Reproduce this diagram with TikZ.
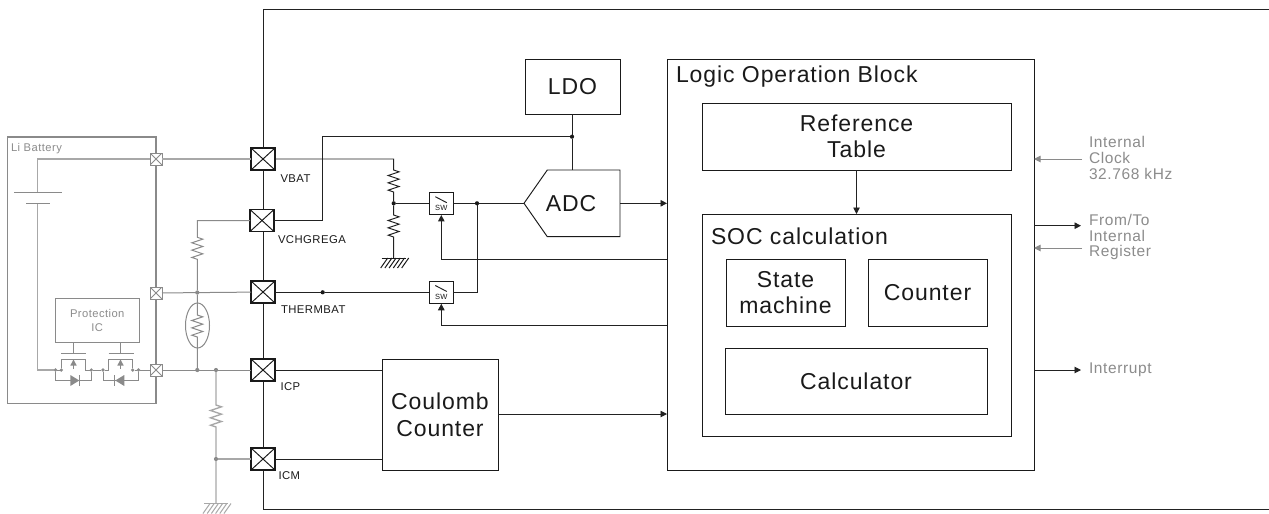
\documentclass[tikz,border=0pt]{standalone}
\usepackage{fontspec}
\setmainfont[LetterSpace=4]{Liberation Sans}
\usetikzlibrary{arrows.meta,calc,shapes.geometric}
\definecolor{ink}{HTML}{1A1A1A}
\definecolor{wirek}{HTML}{222222}
\definecolor{gl}{HTML}{A8A8A8}
\definecolor{gm}{HTML}{8A8A8A}
\definecolor{gt}{HTML}{8C8C8C}
\newcommand\fsz[1]{\fontsize{#1}{#1}\selectfont}
\tikzset{
  x=1pt,y=-1pt,
  every node/.style={inner sep=0pt,outer sep=0pt},
  wire/.style={draw=wirek,line width=0.95pt},
  gwire/.style={draw=gm,line width=1pt},
  lwire/.style={draw=gl,line width=1.3pt},
  tipped/.style={-{Triangle[length=6.5pt,width=6.5pt]}},
  blockbox/.style={draw=ink,line width=0.95pt,fill=white,anchor=north west,align=center,text=ink,font=\fsz{23}},
  bigtext/.style={text=ink,align=center,font=\fsz{23}},
  padbox/.style={draw=ink,line width=1.05pt,fill=white,minimum width=24pt,minimum height=22pt,
    path picture={\draw[ink,line width=0.95pt] (path picture bounding box.north west)--(path picture bounding box.south east)
      (path picture bounding box.north east)--(path picture bounding box.south west);}},
  smallpad/.style={draw=gm,line width=0.95pt,fill=white,minimum width=12pt,minimum height=12pt,
    path picture={\draw[gm,line width=0.9pt] (path picture bounding box.north west)--(path picture bounding box.south east)
      (path picture bounding box.north east)--(path picture bounding box.south west);}},
  swbox/.style={draw=ink,line width=0.95pt,fill=white,minimum width=24pt,minimum height=22.5pt},
  dotk/.style={circle,fill=ink,minimum size=4.2pt},
  dotg/.style={circle,fill=gm,minimum size=4.2pt},
  pinlabel/.style={anchor=west,text=ink,font=\fsz{11.3}},
  graytext/.style={anchor=west,text=gt,align=left,font=\fontsize{15.5}{15.8}\selectfont},
  small gray/.style={text=gt,align=center,font=\fontsize{11.2}{14}\selectfont},
}
\def\zz{-- ++(5.5,1.83) -- ++(-11,3.67) -- ++(11,3.67) -- ++(-11,3.67) -- ++(11,3.67) -- ++(-11,3.67) -- ++(5.5,1.83)}
\newcommand\hatch[2]{% colour, origin
  \foreach \i in {-9,-4.8,-0.6,3.6,7.8,12}{\draw[#1,line width=1pt] ($(#2)+(\i,0)$) ++(3,0) -- ++(-7,10);}
  \draw[#1,line width=1pt] ($(#2)+(-12,0)$) -- ++(24,0);}
\begin{document}
\begin{tikzpicture}
\useasboundingbox (0,0) rectangle (1269,514);
\fill[white] (0,0) rectangle (1269,514);
% outer chip outline
\coordinate (chipTR) at (1269,9);
\coordinate (chipTL) at (263,9);
\coordinate (chipBL) at (263,509);
\coordinate (chipBR) at (1269,509);
\draw[wire] (chipTR) -- (chipTL) -- (chipBL) -- (chipBR);
% battery box
\node[draw=gm,line width=1.1pt,minimum width=148.5pt,minimum height=266.5pt,anchor=north west] (batt) at (7.5,137) {};
\node[small gray,anchor=west,font=\fsz{11.2}] (libatt) at (11,148.5) {Li Battery};
% pads
\node[padbox] (vbat) at (263,159) {};
\node[padbox] (vchg) at (262,220.5) {};
\node[padbox] (therm) at (263,292) {};
\node[padbox] (icp) at (263,370) {};
\node[padbox] (icm) at (263,459) {};
\node[smallpad] (sp1) at (156,159) {};
\node[smallpad] (sp2) at (156,293) {};
\node[smallpad] (sp3) at (156,370) {};
\node[pinlabel] (lvbat) at (280.5,179) {VBAT};
\node[pinlabel] (lvchg) at (278,240) {VCHGREGA};
\node[pinlabel] (ltherm) at (281,309.5) {THERMBAT};
\node[pinlabel] (licp) at (280.5,387) {ICP};
\node[pinlabel] (licm) at (278.5,476) {ICM};
% battery internals
\coordinate (bc1) at (37.5,159);
\coordinate (bp1) at (37.5,192);
\coordinate (bp2) at (37.5,203);
\coordinate (bc2) at (37.5,370);
\node[dotg,minimum size=3.6pt] (d1) at (55.5,370) {};
\node[dotg,minimum size=3.6pt] (d2) at (61.3,370) {};
\node[dotg,minimum size=3.6pt] (d3) at (91.3,370) {};
\node[dotg,minimum size=3.6pt] (d4) at (103,370) {};
\node[dotg,minimum size=3.6pt] (d5) at (132.7,370) {};
\node[dotg,minimum size=3.6pt] (d6) at (138.5,370) {};
\draw[lwire] (sp1) -- (bc1) -- (bp1);
\draw[lwire] (bp2) -- (bc2) -- (d1);
\draw[gm,line width=1pt] (14,192) -- (62,192) (26,203) -- (50,203);
\draw[gwire] (d1) -- (d2) (d3) -- (d4) (d5) -- (d6) -- (sp3);
\node[draw=gm,line width=1pt,minimum width=83.5pt,minimum height=44pt,anchor=north west,small gray] (prot) at (55.5,298) {Protection\\IC};
% mosfets
\coordinate (g1) at (73.5,353.3);
\coordinate (g2) at (120.5,353.3);
\draw[gwire] (g1 |- prot.south) -- (g1);
\draw[gwire] (g2 |- prot.south) -- (g2);
\draw[gwire] (61,353.3) -- (86,353.3);
\draw[gwire] (108.5,353.3) -- (133.5,353.3);
\draw[gwire] (d2) -- (61.3,359.3) -- (85.7,359.3) -- (85.7,370) -- (d3);
\draw[gwire] (108.7,370) -- (108.7,359.3) -- (132.7,359.3) -- (d5);
\draw[gwire] (d4) -- (108.7,370);
\fill[gm] (73.5,359.5) -- (70.3,365.5) -- (76.7,365.5) -- cycle;
\draw[gwire] (73.5,365) -- (73.5,369);
\fill[gm] (120.5,359.5) -- (117.3,365.5) -- (123.7,365.5) -- cycle;
\draw[gwire] (120.5,365) -- (120.5,369);
% body diodes
\draw[gwire] (d1) -- (55.5,380) -- (91.3,380) -- (d3);
\draw[gwire] (d4) -- (103,380) -- (138.5,380) -- (d6);
\fill[gm] (70.3,375) -- (70.3,386) -- (79.3,380.5) -- cycle;
\draw[gm,line width=1pt] (79.7,375) -- (79.7,386);
\fill[gm] (124.3,375) -- (124.3,386) -- (115.3,380.5) -- cycle;
\draw[gm,line width=1pt] (114.7,375) -- (114.7,386);
% left external wiring
\node[dotg] (j1) at (197.3,292.5) {};
\node[dotg] (j2) at (197.3,370) {};
\node[dotg] (j3) at (216,370) {};
\node[dotg] (j4) at (216,459) {};
\coordinate (lgnd) at (216,503.5);
\draw[lwire] (sp1) -- (vbat);
\draw[gwire] (vchg) -- (197.3,220.5) -- (197.3,237.3) \zz -- (j1);
\draw[gwire] (sp2) -- (therm);
\draw[gwire] (sp3) -- (icp);
\draw[gwire] (j1) -- (197.3,315) \zz -- (j2);
\node[draw=gm,line width=1pt,ellipse,minimum width=24pt,minimum height=45pt] (thermistor) at (197.5,325.5) {};
\draw[lwire] (j3) -- (216,405) \zz -- (j4) -- (lgnd);
\draw[lwire] (j4) -- (icm);
\hatch{gl}{lgnd}
% VBAT divider
\node[dotk] (dv) at (393.7,203.3) {};
\coordinate (rgnd) at (393.7,258);
\draw[wire] (vbat) -- (393.7,159) -- (393.7,170) \zz -- (dv);
\draw[wire] (dv) -- (393.7,215) \zz -- (rgnd);
\hatch{ink}{rgnd}
% switches
\node[swbox] (sw1) at (441.3,203.7) {};
\node[swbox] (sw2) at (441.3,292.5) {};
\node[small gray,text=ink,font=\fsz{7.5}] (sw1t) at (441.3,208.3) {SW};
\node[small gray,text=ink,font=\fsz{7.5}] (sw2t) at (441.3,297.3) {SW};
\draw[wire] (sw1.center)++(-6,-7) -- ++(11.5,6);
\draw[wire] (sw2.center)++(-6,-7) -- ++(11.5,6);
% blocks
\node[blockbox,minimum width=95pt,minimum height=55pt] (ldo) at (525,59) {LDO};
\node[draw=ink,line width=0.95pt,minimum width=367pt,minimum height=411pt,anchor=north west] (logic) at (667,59) {};
\node[bigtext,anchor=west] (logict) at (676,77) {Logic Operation Block};
\node[blockbox,minimum width=309pt,minimum height=67pt,font=\fontsize{23}{26}\selectfont] (ref) at (702,103) {Reference\\Table};
\node[draw=ink,line width=0.95pt,minimum width=309pt,minimum height=222pt,anchor=north west] (soc) at (702,214) {};
\node[bigtext,anchor=west] (soct) at (711,236.5) {SOC calculation};
\node[blockbox,minimum width=119pt,minimum height=67pt,font=\fontsize{23}{26}\selectfont] (state) at (726,259) {State\\machine};
\node[blockbox,minimum width=119pt,minimum height=67pt] (counter) at (868,259) {Counter};
\node[blockbox,minimum width=262pt,minimum height=66pt] (calc) at (725,348) {Calculator};
\node[blockbox,minimum width=116pt,minimum height=111pt,font=\fontsize{23}{27}\selectfont] (coulomb) at (382,359) {Coulomb\\Counter};
% ADC
\draw[ink,line width=0.95pt,fill=white] (524,203.3) -- (547.3,170) -- (620,170) -- (620,236.7) -- (547.3,236.7) -- cycle;
\node[bigtext] (adc) at (571,203.3) {ADC};
\coordinate (adcin) at (524,203.3);
\coordinate (adctop) at (572,170);
\coordinate (adcout) at (620,203.3);
% right-hand wiring
\node[dotk] (d7) at (477,203.3) {};
\node[dotk] (d8) at (322.7,292.3) {};
\node[dotk] (d9) at (572,136.7) {};
\draw[wire] (dv) -- (dv -| sw1.west);
\draw[wire] (dv -| sw1.east) -- (d7) -- (adcin);
\draw[wire] (d7) -- (477,292.3) -- (sw2.east |- 0,292.3);
\draw[wire] (therm.east |- 0,292.3) -- (d8) -- (sw2.west |- 0,292.3);
\draw[wire] (vchg) -- (322.3,220.5) -- (322.3,136.7) -- (d9);
\draw[wire] (ldo.south -| d9) -- (d9) -- (adctop);
\draw[wire,tipped] (adcout) -- (adcout -| logic.west);
\draw[wire,tipped] (856.5,170) -- (856.5,214);
\draw[wire,tipped] (logic.west |- 0,259) -- (441.3,259) -- (sw1.south);
\draw[wire,tipped] (logic.west |- 0,325.7) -- (441.3,325.7) -- (sw2.south);
\draw[wire] (icp) -- (coulomb.west |- icp);
\draw[wire] (icm) -- (coulomb.west |- icm);
\draw[wire,tipped] (coulomb.east |- 0,414) -- (logic.west |- 0,414);
% right side signals
\node[graytext] (clk) at (1089,158) {Internal\\Clock\\32.768 kHz};
\node[graytext] (ftr) at (1089,237) {From/To\\Internal\\Register};
\node[graytext] (irq) at (1089,370) {Interrupt};
\coordinate (c1) at (1082,159);
\coordinate (c2) at (1081,225.7);
\coordinate (c3) at (1082,248);
\coordinate (c4) at (1081,370);
\draw[gwire,tipped] (c1) -- (logic.east |- c1);
\draw[wire,tipped] (logic.east |- c2) -- (c2);
\draw[gwire,tipped] (c3) -- (logic.east |- c3);
\draw[wire,tipped] (logic.east |- c4) -- (c4);
\end{tikzpicture}
\end{document}
